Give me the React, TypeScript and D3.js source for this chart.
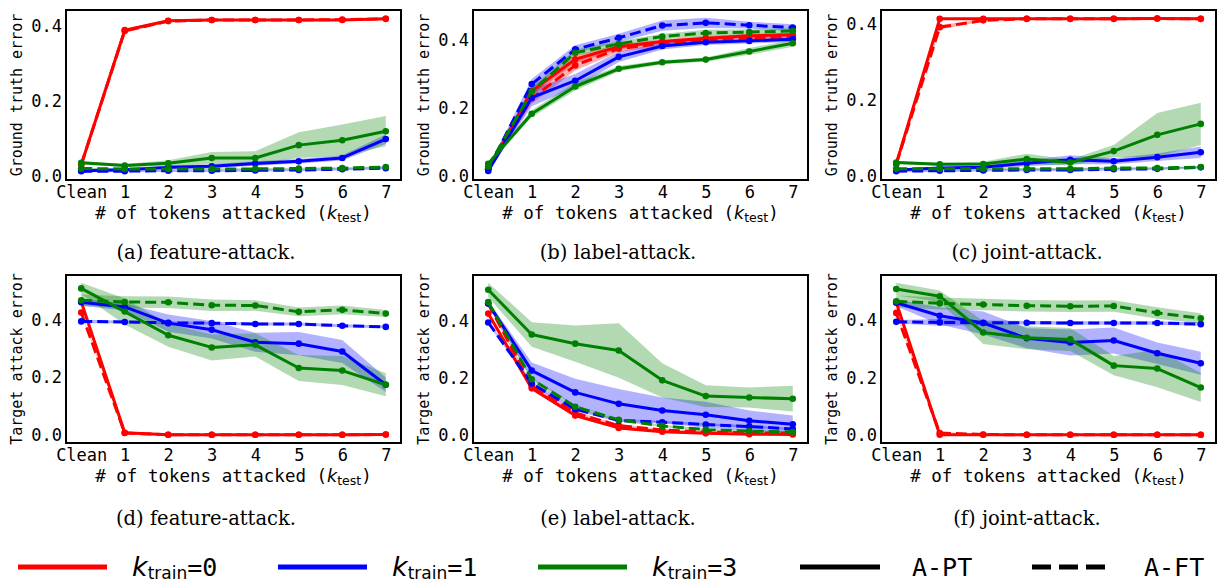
import React, { useEffect, useRef } from "react";
import * as d3 from "d3";

// x categories and y ticks shared by all six panels
const xLabels = ["Clean", "1", "2", "3", "4", "5", "6", "7"];
const yTicks = [0, 0.2, 0.4];

// series order: k=0 A-PT, k=0 A-FT, k=1 A-PT, k=1 A-FT, k=3 A-PT, k=3 A-FT
const seriesColors = ["red", "red", "blue", "blue", "green", "green"];
const seriesDashed = [false, true, false, true, false, true];

const captions = [
  "(a) feature-attack.",
  "(b) label-attack.",
  "(c) joint-attack.",
  "(d) feature-attack.",
  "(e) label-attack.",
  "(f) joint-attack.",
];
const yLabels = [
  "Ground truth error",
  "Ground truth error",
  "Ground truth error",
  "Target attack error",
  "Target attack error",
  "Target attack error",
];

// (a) feature-attack, ground truth error
const featureGtMean = [
  [0.031, 0.388, 0.413, 0.415, 0.415, 0.415, 0.415, 0.418],
  [0.031, 0.386, 0.412, 0.415, 0.415, 0.415, 0.416, 0.418],
  [0.015, 0.018, 0.024, 0.027, 0.034, 0.04, 0.049, 0.099],
  [0.014, 0.014, 0.015, 0.015, 0.016, 0.017, 0.019, 0.022],
  [0.036, 0.029, 0.035, 0.049, 0.049, 0.083, 0.096, 0.12],
  [0.021, 0.02, 0.02, 0.02, 0.02, 0.021, 0.022, 0.025],
];
const featureGtSpread = [
  [0.002, 0.004, 0.003, 0.002, 0.002, 0.002, 0.002, 0.003],
  [0.002, 0.004, 0.003, 0.002, 0.002, 0.002, 0.002, 0.003],
  [0.002, 0.003, 0.004, 0.005, 0.006, 0.006, 0.007, 0.012],
  [0.003, 0.003, 0.003, 0.003, 0.003, 0.003, 0.003, 0.003],
  [0.004, 0.004, 0.008, 0.016, 0.018, 0.034, 0.042, 0.04],
  [0.002, 0.002, 0.002, 0.002, 0.002, 0.002, 0.002, 0.002],
];

// (b) label-attack, ground truth error
const labelGtMean = [
  [0.02, 0.25, 0.343, 0.38, 0.395, 0.405, 0.412, 0.415],
  [0.022, 0.228, 0.325, 0.374, 0.39, 0.4, 0.405, 0.408],
  [0.015, 0.23, 0.28, 0.35, 0.382, 0.393, 0.397, 0.402],
  [0.02, 0.27, 0.372, 0.406, 0.442, 0.45, 0.443, 0.436],
  [0.036, 0.183, 0.263, 0.315, 0.334, 0.342, 0.366, 0.39],
  [0.028, 0.248, 0.362, 0.388, 0.41, 0.42, 0.423, 0.426],
];
const labelGtSpread = [
  [0.003, 0.012, 0.012, 0.008, 0.006, 0.006, 0.006, 0.006],
  [0.003, 0.015, 0.015, 0.01, 0.008, 0.006, 0.006, 0.006],
  [0.004, 0.025, 0.02, 0.015, 0.01, 0.008, 0.008, 0.008],
  [0.004, 0.015, 0.012, 0.012, 0.015, 0.015, 0.01, 0.01],
  [0.004, 0.01, 0.012, 0.008, 0.006, 0.006, 0.01, 0.01],
  [0.004, 0.012, 0.01, 0.008, 0.008, 0.01, 0.008, 0.008],
];

// (c) joint-attack, ground truth error
const jointGtMean = [
  [0.031, 0.415, 0.415, 0.415, 0.415, 0.415, 0.416, 0.415],
  [0.031, 0.393, 0.411, 0.415, 0.415, 0.415, 0.416, 0.415],
  [0.015, 0.02, 0.022, 0.033, 0.042, 0.038, 0.049, 0.062],
  [0.012, 0.013, 0.014, 0.015, 0.015, 0.017, 0.018, 0.022],
  [0.035, 0.03, 0.031, 0.044, 0.035, 0.065, 0.108, 0.137],
  [0.018, 0.018, 0.018, 0.018, 0.018, 0.02, 0.02, 0.023],
];
const jointGtSpread = [
  [0.002, 0.002, 0.002, 0.002, 0.002, 0.002, 0.002, 0.002],
  [0.002, 0.006, 0.003, 0.002, 0.002, 0.002, 0.002, 0.002],
  [0.002, 0.003, 0.004, 0.008, 0.012, 0.008, 0.01, 0.015],
  [0.003, 0.003, 0.003, 0.003, 0.003, 0.003, 0.003, 0.003],
  [0.004, 0.004, 0.006, 0.014, 0.008, 0.016, 0.058, 0.056],
  [0.002, 0.002, 0.002, 0.002, 0.002, 0.002, 0.002, 0.002],
];

// (d) feature-attack, target attack error
const featureTaMean = [
  [0.462, 0.009, 0.002, 0.002, 0.002, 0.002, 0.002, 0.003],
  [0.425, 0.008, 0.002, 0.002, 0.002, 0.002, 0.002, 0.003],
  [0.46, 0.444, 0.388, 0.365, 0.322, 0.317, 0.29, 0.175],
  [0.394, 0.392, 0.389, 0.388, 0.385, 0.385, 0.379, 0.375],
  [0.508, 0.428, 0.346, 0.304, 0.313, 0.233, 0.224, 0.175],
  [0.467, 0.461, 0.46, 0.45, 0.449, 0.427, 0.434, 0.421],
];
const featureTaSpread = [
  [0.005, 0.003, 0.002, 0.002, 0.002, 0.002, 0.002, 0.002],
  [0.005, 0.003, 0.002, 0.002, 0.002, 0.002, 0.002, 0.002],
  [0.012, 0.012, 0.03, 0.03, 0.033, 0.04, 0.04, 0.025],
  [0.006, 0.005, 0.005, 0.005, 0.005, 0.005, 0.005, 0.005],
  [0.02, 0.045, 0.04, 0.045, 0.04, 0.045, 0.05, 0.04],
  [0.02, 0.02, 0.02, 0.02, 0.018, 0.015, 0.015, 0.012],
];

// (e) label-attack, target attack error
const labelTaMean = [
  [0.425, 0.164, 0.069, 0.026, 0.013, 0.007, 0.004, 0.003],
  [0.46, 0.172, 0.078, 0.034, 0.019, 0.012, 0.009, 0.008],
  [0.46, 0.226, 0.15, 0.11, 0.087, 0.072, 0.051, 0.039],
  [0.394, 0.181, 0.091, 0.052, 0.046, 0.038, 0.031, 0.022],
  [0.508, 0.352, 0.32, 0.296, 0.192, 0.137, 0.132, 0.128],
  [0.465, 0.196, 0.1, 0.054, 0.033, 0.02, 0.015, 0.012],
];
const labelTaSpread = [
  [0.005, 0.006, 0.006, 0.005, 0.004, 0.003, 0.003, 0.003],
  [0.005, 0.006, 0.006, 0.005, 0.004, 0.003, 0.003, 0.003],
  [0.01, 0.028, 0.048, 0.052, 0.045, 0.045, 0.036, 0.03],
  [0.005, 0.006, 0.006, 0.005, 0.004, 0.004, 0.004, 0.004],
  [0.025, 0.043, 0.063, 0.095, 0.06, 0.038, 0.035, 0.045],
  [0.005, 0.006, 0.006, 0.005, 0.004, 0.004, 0.004, 0.004],
];

// (f) joint-attack, target attack error
const jointTaMean = [
  [0.462, 0.002, 0.002, 0.002, 0.002, 0.002, 0.002, 0.002],
  [0.425, 0.008, 0.003, 0.002, 0.002, 0.002, 0.002, 0.002],
  [0.46, 0.415, 0.39, 0.337, 0.322, 0.329, 0.285, 0.25],
  [0.394, 0.392, 0.391, 0.391, 0.39, 0.39, 0.39, 0.386],
  [0.508, 0.483, 0.357, 0.339, 0.333, 0.242, 0.232, 0.166],
  [0.465, 0.458, 0.454, 0.45, 0.448, 0.449, 0.425, 0.406],
];
const jointTaSpread = [
  [0.005, 0.002, 0.002, 0.002, 0.002, 0.002, 0.002, 0.002],
  [0.005, 0.004, 0.002, 0.002, 0.002, 0.002, 0.002, 0.002],
  [0.012, 0.03, 0.04, 0.035, 0.045, 0.045, 0.037, 0.04],
  [0.006, 0.012, 0.008, 0.006, 0.006, 0.006, 0.006, 0.006],
  [0.022, 0.02, 0.04, 0.04, 0.04, 0.033, 0.065, 0.05],
  [0.02, 0.02, 0.02, 0.02, 0.02, 0.02, 0.02, 0.018],
];

const panelMeans = [featureGtMean, labelGtMean, jointGtMean, featureTaMean, labelTaMean, jointTaMean];
const panelSpreads = [featureGtSpread, labelGtSpread, jointGtSpread, featureTaSpread, labelTaSpread, jointTaSpread];

const legendKs = ["0", "1", "3"];
const legendColors = ["red", "blue", "green"];
const legendStyles = ["A-PT", "A-FT"];

const W = 1217;
const H = 583;
const colLeft = [66, 473, 881];
const axW = 335;
const rowTop = [10, 275];
const rowH = [170, 168];
const captionX = [206, 618, 1027];
const captionY = [259, 525];

const MONO = "'DejaVu Sans Mono', monospace";
const SANS = "'DejaVu Sans', sans-serif";

const App = () => {
  const svgRef = useRef<SVGSVGElement | null>(null);

  useEffect(() => {
    const svg = d3.select(svgRef.current);
    svg.selectAll("*").remove();

    svg.append("rect").attr("width", W).attr("height", H).attr("fill", "white");

    panelMeans.forEach((means, pi) => {
      const spreads = panelSpreads[pi];
      const col = pi % 3;
      const row = Math.floor(pi / 3);
      const left = colLeft[col];
      const top = rowTop[row];
      const h = rowH[row];

      const x = d3
        .scaleLinear()
        .domain([-0.35, xLabels.length - 1 + 0.35])
        .range([left, left + axW]);

      const lows = means.flatMap((m, si) => m.map((v, i) => v - spreads[si][i]));
      const highs = means.flatMap((m, si) => m.map((v, i) => v + spreads[si][i]));
      const lo = d3.min(lows) as number;
      const hi = d3.max(highs) as number;
      const pad = (hi - lo) * 0.05;
      const y = d3
        .scaleLinear()
        .domain([lo - pad, hi + pad])
        .range([top + h, top]);

      const g = svg.append("g");

      // bands
      means.forEach((m, si) => {
        const area = d3
          .area<number>()
          .x((_, i) => x(i))
          .y0((v, i) => y(v - spreads[si][i]))
          .y1((v, i) => y(v + spreads[si][i]));
        g.append("path")
          .attr("d", area(m))
          .attr("fill", seriesColors[si])
          .attr("fill-opacity", 0.3)
          .attr("stroke", "none");
      });

      // lines + markers
      means.forEach((m, si) => {
        const line = d3
          .line<number>()
          .x((_, i) => x(i))
          .y((v) => y(v));
        g.append("path")
          .attr("d", line(m))
          .attr("fill", "none")
          .attr("stroke", seriesColors[si])
          .attr("stroke-width", 3)
          .attr("stroke-linejoin", "round")
          .attr("stroke-dasharray", seriesDashed[si] ? "11,5" : null);
        g.selectAll(null)
          .data(m)
          .join("circle")
          .attr("cx", (_, i) => x(i))
          .attr("cy", (v) => y(v))
          .attr("r", 3.3)
          .attr("fill", seriesColors[si]);
      });

      // axes
      const yAxis = g
        .append("g")
        .attr("transform", `translate(${left},0)`)
        .call(
          d3
            .axisLeft(y)
            .tickValues(yTicks)
            .tickSize(0)
            .tickPadding(4)
            .tickFormat(d3.format(".1f"))
        );
      const xAxis = g
        .append("g")
        .attr("transform", `translate(0,${top + h})`)
        .call(
          d3
            .axisBottom(x)
            .tickValues(d3.range(xLabels.length))
            .tickSize(0)
            .tickPadding(6)
            .tickFormat((d) => xLabels[d as number])
        );
      [yAxis, xAxis].forEach((a) => {
        a.select(".domain").remove();
        a.attr("font-family", MONO).attr("font-size", 17);
        a.selectAll("text").attr("fill", "black");
      });

      // frame
      g.append("rect")
        .attr("x", left)
        .attr("y", top)
        .attr("width", axW)
        .attr("height", h)
        .attr("fill", "none")
        .attr("stroke", "black")
        .attr("stroke-width", 2);

      // x label
      const xl = g
        .append("text")
        .attr("x", left + axW / 2)
        .attr("y", top + h + 39)
        .attr("text-anchor", "middle")
        .attr("font-family", MONO)
        .attr("font-size", 17.5)
        .attr("fill", "black");
      xl.append("tspan").text("# of tokens attacked (");
      xl.append("tspan").attr("font-family", SANS).attr("font-style", "italic").text("k");
      xl.append("tspan").attr("font-family", SANS).attr("font-size", 12.5).attr("dy", 3).text("test");
      xl.append("tspan").attr("dy", -3).text(")");

      // y label
      const cy = top + h / 2;
      const cx = left - 44;
      g.append("text")
        .attr("transform", `translate(${cx},${cy}) rotate(-90)`)
        .attr("text-anchor", "middle")
        .attr("font-family", MONO)
        .attr("font-size", 15)
        .attr("fill", "black")
        .text(yLabels[pi]);

      // caption
      g.append("text")
        .attr("x", captionX[col])
        .attr("y", captionY[row])
        .attr("text-anchor", "middle")
        .attr("font-family", "'DejaVu Serif', serif")
        .attr("font-size", 19.5)
        .attr("fill", "black")
        .text(captions[pi]);
    });

    // legend
    const lg = svg.append("g");
    const lineY = 567;
    const textY = 576;
    const kStarts = [18, 278, 538];
    legendKs.forEach((k, i) => {
      const x0 = kStarts[i];
      lg.append("line")
        .attr("x1", x0)
        .attr("x2", x0 + 89)
        .attr("y1", lineY)
        .attr("y2", lineY)
        .attr("stroke", legendColors[i])
        .attr("stroke-width", 5);
      const t = lg
        .append("text")
        .attr("x", x0 + 114)
        .attr("y", textY)
        .attr("font-family", MONO)
        .attr("font-size", 25)
        .attr("fill", "black");
      t.append("tspan").attr("font-family", SANS).attr("font-style", "italic").attr("font-size", 27).text("k");
      t.append("tspan").attr("font-family", SANS).attr("font-size", 17).attr("dy", 3).text("train");
      t.append("tspan").attr("dy", -3).text(`=${k}`);
    });
    const styleStarts = [800, 1032];
    legendStyles.forEach((s, i) => {
      const x0 = styleStarts[i];
      lg.append("line")
        .attr("x1", x0)
        .attr("x2", x0 + 80)
        .attr("y1", lineY)
        .attr("y2", lineY)
        .attr("stroke", "black")
        .attr("stroke-width", 5)
        .attr("stroke-dasharray", i === 1 ? "19,8" : null);
      lg.append("text")
        .attr("x", x0 + 112)
        .attr("y", textY)
        .attr("font-family", MONO)
        .attr("font-size", 25)
        .attr("fill", "black")
        .text(s);
    });
  }, []);

  return (
    <svg
      ref={svgRef}
      width={W}
      height={H}
      style={{ position: "absolute", left: 0, top: 0, display: "block" }}
    />
  );
};

export default App;
